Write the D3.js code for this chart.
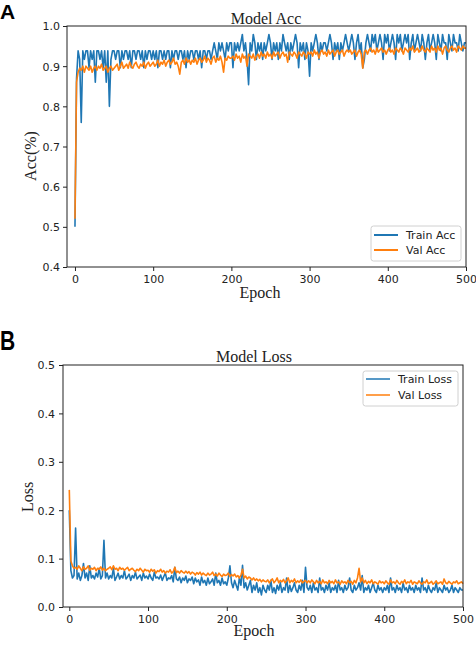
<!DOCTYPE html>
<html>
<head>
<meta charset="utf-8">
<script src="https://cdn.jsdelivr.net/npm/d3@7"></script>
<style>
  body { margin: 0; background: #fff; }
  svg { display: block; }
</style>
</head>
<body>
<div id="vis"></div>
<script>
// values, one every 2 epochs (0, 2, 4 ... 500)
const EPOCH_STEP = 2;

const TRAIN_ACC = [
  .50,.87,.938,.917,.76,.938,.917,.938,.938,.896,.938,.917,.938,.86,.938,.938,.917,.938,.896,.938,.86,.938,.80,.917,.938,
  .938,.917,.938,.938,.896,.938,.917,.938,.938,.917,.938,.896,.938,.938,.917,.938,.938,.917,.938,.896,.938,.917,.938,.938,.917,
  .938,.917,.938,.896,.938,.938,.917,.938,.917,.938,.938,.896,.938,.917,.938,.938,.917,.938,.938,.917,.938,.896,.938,.917,.938,
  .938,.917,.938,.938,.917,.938,.896,.938,.938,.917,.938,.938,.917,.938,.958,.938,.917,.958,.938,.958,.938,.917,.958,.938,.958,
  .958,.896,.958,.938,.958,.938,.958,.979,.938,.958,.917,.854,.958,.938,.979,.958,.917,.958,.938,.958,.917,.958,.938,.958,.979,
  .958,.917,.958,.938,.958,.917,.958,.938,.979,.958,.938,.958,.917,.958,.938,.958,.979,.958,.896,.958,.938,.958,.917,.958,.938,
  .875,.958,.938,.958,.979,.958,.917,.958,.938,.958,.958,.938,.958,.979,.958,.917,.958,.938,.958,.917,.958,.938,.958,.979,.958,
  .938,.958,.979,.958,.917,.958,.979,.938,.958,.896,.917,.958,.979,.958,.938,.979,.958,.979,.938,.958,.979,.958,.917,.979,.958,
  .979,.938,.958,.979,.958,.917,.979,.958,.979,.938,.958,.979,.958,.979,.917,.958,.979,.938,.958,.979,.958,.938,.979,.958,.917,
  .958,.979,.938,.958,.979,.958,.917,.979,.958,.938,.979,.958,.958,.917,.979,.958,.938,.979,.958,.958,.938,.979,.958,.938,.958,
  .958
];

const VAL_ACC = [
  .52,.86,.885,.895,.89,.9,.885,.9,.895,.89,.9,.885,.895,.9,.89,.9,.895,.905,.89,.895,.9,.885,.895,.9,.89,
  .895,.9,.905,.89,.9,.91,.895,.9,.905,.895,.91,.9,.895,.905,.91,.9,.895,.905,.9,.91,.895,.905,.91,.9,.905,
  .91,.9,.905,.915,.9,.91,.905,.915,.9,.91,.915,.905,.91,.92,.905,.91,.9,.88,.91,.915,.905,.92,.91,.915,.905,
  .915,.91,.92,.905,.915,.92,.91,.915,.925,.91,.92,.915,.905,.92,.925,.91,.92,.915,.925,.91,.885,.92,.915,.925,.92,
  .92,.925,.915,.93,.92,.925,.91,.93,.92,.925,.90,.93,.925,.92,.93,.915,.925,.93,.92,.935,.925,.93,.92,.935,.925,
  .93,.92,.935,.925,.93,.935,.92,.93,.935,.925,.93,.91,.935,.93,.925,.935,.93,.92,.935,.93,.925,.935,.93,.92,.935,
  .93,.935,.925,.94,.93,.935,.92,.935,.94,.93,.935,.925,.94,.93,.935,.94,.925,.935,.94,.93,.935,.94,.925,.935,.94,
  .935,.94,.93,.935,.94,.925,.935,.94,.93,.895,.935,.94,.93,.94,.945,.935,.94,.93,.945,.935,.94,.945,.935,.94,.93,
  .94,.945,.935,.94,.93,.945,.94,.935,.945,.94,.93,.945,.94,.935,.945,.94,.95,.935,.94,.945,.935,.94,.95,.94,.935,
  .945,.94,.935,.95,.94,.945,.935,.95,.94,.945,.93,.945,.95,.94,.935,.945,.95,.94,.945,.935,.95,.945,.94,.95,.945,
  .945
];

const TRAIN_LOSS = [
  .20,.075,.06,.065,.163,.058,.07,.055,.065,.09,.06,.07,.055,.085,.06,.065,.058,.07,.062,.08,.058,.065,.138,.06,.07,
  .058,.065,.06,.08,.055,.062,.07,.058,.065,.06,.075,.058,.062,.068,.055,.065,.06,.072,.058,.062,.066,.055,.07,.06,.064,
  .058,.068,.06,.055,.072,.06,.062,.058,.066,.055,.063,.07,.055,.06,.058,.065,.052,.082,.058,.055,.062,.05,.06,.055,.064,
  .05,.058,.055,.062,.048,.06,.052,.056,.045,.062,.05,.055,.045,.06,.048,.052,.058,.045,.07,.05,.055,.045,.06,.048,.052,
  .045,.06,.085,.05,.04,.055,.045,.035,.06,.045,.086,.04,.05,.035,.045,.055,.03,.045,.035,.05,.03,.04,.025,.045,.035,
  .03,.045,.035,.055,.03,.04,.028,.045,.035,.05,.03,.04,.035,.06,.03,.045,.032,.04,.05,.035,.03,.045,.035,.055,.03,
  .082,.04,.035,.045,.03,.05,.035,.04,.03,.06,.035,.04,.03,.045,.035,.05,.03,.04,.035,.045,.03,.055,.035,.04,.03,
  .045,.035,.04,.06,.035,.03,.045,.035,.04,.05,.035,.065,.03,.04,.035,.045,.03,.04,.05,.035,.03,.045,.035,.04,.03,
  .04,.035,.045,.03,.06,.035,.04,.03,.045,.035,.04,.03,.05,.035,.04,.03,.045,.035,.04,.03,.045,.035,.04,.03,.06,
  .035,.04,.03,.045,.035,.03,.04,.035,.05,.03,.04,.035,.03,.045,.035,.04,.03,.035,.045,.03,.04,.035,.03,.04,.035,
  .035
];

const VAL_LOSS = [
  .242,.095,.085,.08,.082,.078,.085,.08,.075,.083,.078,.08,.085,.076,.08,.078,.082,.075,.08,.078,.083,.076,.08,.075,.078,
  .08,.083,.077,.085,.078,.08,.075,.082,.078,.08,.076,.079,.082,.075,.078,.08,.076,.073,.078,.075,.08,.076,.072,.078,.075,
  .076,.072,.078,.074,.077,.07,.075,.073,.078,.072,.075,.07,.074,.072,.077,.07,.073,.082,.071,.074,.07,.075,.072,.07,.074,
  .07,.073,.068,.072,.07,.066,.071,.068,.072,.066,.07,.067,.065,.07,.066,.068,.072,.065,.068,.064,.07,.066,.063,.068,.065,
  .066,.07,.063,.067,.064,.068,.062,.065,.06,.066,.078,.06,.064,.058,.062,.06,.056,.06,.055,.058,.054,.057,.052,.056,.053,
  .052,.056,.05,.055,.058,.05,.054,.06,.05,.055,.052,.057,.05,.054,.06,.05,.055,.052,.058,.05,.054,.051,.056,.05,.053,
  .055,.05,.054,.05,.056,.052,.048,.055,.05,.053,.048,.056,.05,.052,.048,.055,.05,.053,.048,.056,.05,.052,.047,.054,.05,
  .052,.048,.055,.05,.053,.047,.055,.05,.06,.08,.052,.06,.05,.055,.048,.053,.05,.056,.048,.052,.05,.047,.054,.05,.052,
  .048,.054,.05,.047,.056,.05,.052,.048,.055,.05,.047,.053,.05,.056,.048,.052,.05,.055,.047,.052,.05,.048,.054,.05,.047,
  .052,.05,.056,.048,.05,.053,.047,.05,.054,.048,.05,.052,.047,.058,.05,.048,.053,.05,.047,.052,.05,.054,.048,.05,.052,
  .048
];

const EPOCH_TICKS = [0, 100, 200, 300, 400, 500];
const ACC_TICKS = [0.4, 0.5, 0.6, 0.7, 0.8, 0.9, 1.0];
const LOSS_TICKS = [0.0, 0.1, 0.2, 0.3, 0.4, 0.5];

const FRAME_WIDTH = 476;
const FRAME_HEIGHT = 648;
const BLUE = "#1f77b4";
const ORANGE = "#ff7f0e";
const SERIF = "'Liberation Serif', 'Times New Roman', serif";
const SANS = "'DejaVu Sans', sans-serif";

const FRAME = d3.select("#vis")
    .append("svg")
    .attr("width", FRAME_WIDTH)
    .attr("height", FRAME_HEIGHT);

function drawPanel(p) {
    const X_SCALE = d3.scaleLinear().domain(p.xDomain).range([p.left, p.right]);
    const Y_SCALE = d3.scaleLinear().domain(p.yDomain).range([p.bottom, p.top]);

    const g = FRAME.append("g");

    // data lines
    const line = d3.line()
        .x((d, i) => X_SCALE(i * EPOCH_STEP))
        .y(d => Y_SCALE(d));

    p.series.forEach(s => {
        g.append("path")
            .datum(s.values)
            .attr("d", line)
            .attr("fill", "none")
            .attr("stroke", s.color)
            .attr("stroke-width", 1.6)
            .attr("stroke-linejoin", "round");
    });

    // axes
    const xAxis = g.append("g")
        .attr("transform", `translate(0,${p.bottom})`)
        .call(d3.axisBottom(X_SCALE).tickValues(EPOCH_TICKS).tickSize(4));
    xAxis.selectAll("text").attr("dy", null).attr("y", 16);

    const yAxis = g.append("g")
        .attr("transform", `translate(${p.left},0)`)
        .call(d3.axisLeft(Y_SCALE).tickValues(p.yTicks).tickFormat(d3.format(".1f")).tickSize(4));
    yAxis.selectAll("text").attr("x", -p.labelGap).attr("dy", "0.35em");

    [xAxis, yAxis].forEach(ax => {
        ax.select(".domain").remove();
        ax.selectAll("line").attr("stroke", "#222");
        ax.selectAll("text")
            .attr("fill", "#222")
            .style("font-family", SANS)
            .style("font-size", "11px");
    });

    // frame
    g.append("rect")
        .attr("x", p.left)
        .attr("y", p.top)
        .attr("width", p.right - p.left)
        .attr("height", p.bottom - p.top)
        .attr("fill", "none")
        .attr("stroke", "#222")
        .attr("stroke-width", 1);

    // titles
    g.append("text")
        .attr("x", p.title.x).attr("y", p.title.y)
        .attr("text-anchor", "middle")
        .style("font-family", SERIF).style("font-size", "16px")
        .attr("fill", "#222")
        .text(p.title.text);

    g.append("text")
        .attr("x", p.xLabel.x).attr("y", p.xLabel.y)
        .attr("text-anchor", "middle")
        .style("font-family", SERIF).style("font-size", "16px")
        .attr("fill", "#222")
        .text("Epoch");

    g.append("text")
        .attr("transform", `translate(${p.yLabel.x},${p.yLabel.y}) rotate(-90)`)
        .attr("text-anchor", "middle")
        .style("font-family", SERIF).style("font-size", "16px")
        .attr("fill", "#222")
        .text(p.yLabel.text);

    // legend
    const L = p.legend;
    g.append("rect")
        .attr("x", L.x).attr("y", L.y)
        .attr("width", L.w).attr("height", L.h)
        .attr("rx", 2.5)
        .attr("fill", "#fff")
        .attr("fill-opacity", 0.85)
        .attr("stroke", "#d0d0d0");

    p.series.forEach((s, i) => {
        const ly = L.rows[i];
        g.append("line")
            .attr("x1", L.lineX).attr("x2", L.lineX + 24)
            .attr("y1", ly).attr("y2", ly)
            .attr("stroke", s.color)
            .attr("stroke-width", L.lineWidth);
        g.append("text")
            .attr("x", L.textX).attr("y", ly + 4)
            .style("font-family", SANS).style("font-size", "11px")
            .attr("fill", "#222")
            .text(s.name);
    });

    // panel letter
    g.append("text")
        .attr("transform", `translate(0,${p.letter.y}) scale(1,${p.letter.stretch})`)
        .style("font-family", "'Liberation Sans', Arial, sans-serif")
        .style("font-size", "21px")
        .style("font-weight", "bold")
        .attr("fill", "#000")
        .text(p.letter.text);
}

drawPanel({
    left: 67, right: 466, top: 26, bottom: 267,
    xDomain: [-10.2, 500], yDomain: [0.4, 1.0], yTicks: ACC_TICKS, labelGap: 7,
    series: [
        { name: "Train Acc", color: BLUE, values: TRAIN_ACC },
        { name: "Val Acc", color: ORANGE, values: VAL_ACC }
    ],
    title: { text: "Model Acc", x: 266, y: 24 },
    xLabel: { x: 260, y: 298 },
    yLabel: { text: "Acc(%)", x: 36, y: 156 },
    legend: { x: 371, y: 226, w: 90, h: 35, rows: [235, 250], lineX: 374, textX: 406, lineWidth: 2 },
    letter: { text: "A", y: 19, stretch: 1.0 }
});

drawPanel({
    left: 63, right: 463, top: 365, bottom: 607,
    xDomain: [-8, 500], yDomain: [0, 0.5], yTicks: LOSS_TICKS, labelGap: 8,
    series: [
        { name: "Train Loss", color: BLUE, values: TRAIN_LOSS },
        { name: "Val Loss", color: ORANGE, values: VAL_LOSS }
    ],
    title: { text: "Model Loss", x: 254, y: 362 },
    xLabel: { x: 254, y: 636 },
    yLabel: { text: "Loss", x: 33, y: 497 },
    legend: { x: 363, y: 371, w: 95, h: 35, rows: [379, 395], lineX: 366, textX: 398, lineWidth: 1.5 },
    letter: { text: "B", y: 350, stretch: 1.35 }
});
</script>
</body>
</html>
